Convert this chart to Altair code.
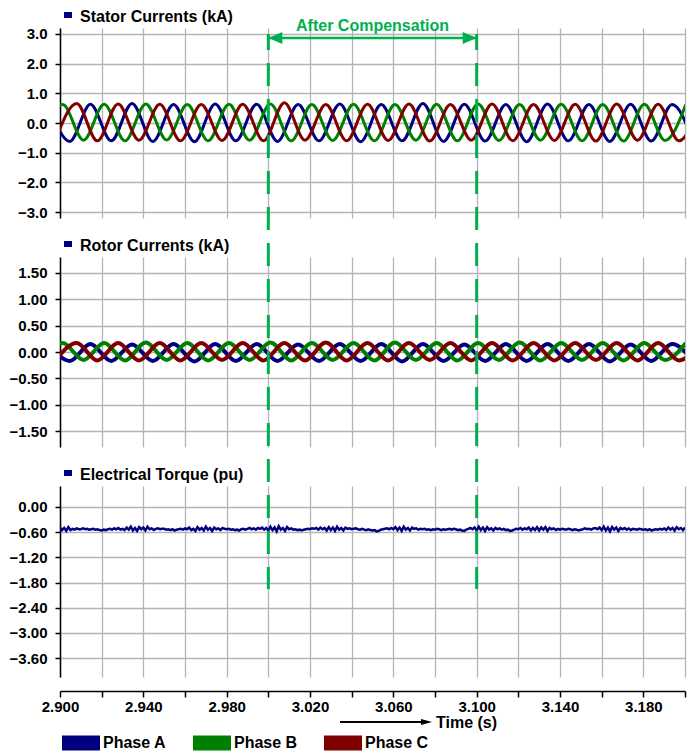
import altair as alt
import pandas as pd
import numpy as np

FONT = "Liberation Sans"
GREEN = "#00b050"
NAVY = "#000080"

phases = ["Phase A", "Phase B", "Phase C"]
phase_colors = ["#000080", "#008000", "#800000"]
panel_titles = ["Stator Currents (kA)", "Rotor Currents (kA)", "Electrical Torque (pu)"]
comp_times = [3.000, 3.100]
comp_label = "After Compensation"
x_label = "Time (s)"
x_ticks = [2.90, 2.92, 2.94, 2.96, 2.98, 3.00, 3.02, 3.04, 3.06, 3.08,
           3.10, 3.12, 3.14, 3.16, 3.18, 3.20]
stator_ticks = [-3.0, -2.0, -1.0, 0.0, 1.0, 2.0, 3.0]
rotor_ticks = [-1.5, -1.0, -0.5, 0.0, 0.5, 1.0, 1.5]
torque_ticks = [0.0, -0.6, -1.2, -1.8, -2.4, -3.0, -3.6]

# times of the successive peaks / troughs of each phase (s)
tA = [2.8947, 2.9047, 2.9146, 2.9246, 2.9346, 2.9446, 2.9545, 2.9645, 2.9745, 2.9844,
      2.9944, 3.0044, 3.0143, 3.0243, 3.0343, 3.0443, 3.0542, 3.0642, 3.0742, 3.0841,
      3.0941, 3.1041, 3.1140, 3.1240, 3.1340, 3.1440, 3.1539, 3.1639, 3.1739, 3.1838,
      3.1938, 3.2038]
tB = [2.8913, 2.9013, 2.9113, 2.9212, 2.9312, 2.9412, 2.9512, 2.9611, 2.9711, 2.9811,
      2.9910, 3.0010, 3.0110, 3.0209, 3.0309, 3.0409, 3.0509, 3.0608, 3.0708, 3.0808,
      3.0907, 3.1007, 3.1107, 3.1206, 3.1306, 3.1406, 3.1506, 3.1605, 3.1705, 3.1805,
      3.1904, 3.2004]
tC = [2.8980, 2.9080, 2.9179, 2.9279, 2.9379, 2.9479, 2.9578, 2.9678, 2.9778, 2.9877,
      2.9977, 3.0077, 3.0176, 3.0276, 3.0376, 3.0476, 3.0575, 3.0675, 3.0775, 3.0874,
      3.0974, 3.1074, 3.1173, 3.1273, 3.1373, 3.1473, 3.1572, 3.1672, 3.1772, 3.1871,
      3.1971, 3.2071]

# stator current extremes (kA)
stator_A = [0.60, -0.62, 0.63, -0.60, 0.66, -0.62, 0.62, -0.63, 0.64, -0.60, 0.63, -0.62,
            0.62, -0.60, 0.64, -0.63, 0.62, -0.60, 0.66, -0.62, 0.63, -0.61, 0.62, -0.63,
            0.64, -0.60, 0.62, -0.62, 0.63, -0.61, 0.62, -0.60]
stator_B = [-0.58, 0.62, -0.58, 0.63, -0.60, 0.64, -0.57, 0.62, -0.60, 0.63, -0.58, 0.64,
            -0.60, 0.62, -0.59, 0.63, -0.60, 0.62, -0.58, 0.63, -0.60, 0.64, -0.59, 0.62,
            -0.58, 0.63, -0.60, 0.62, -0.61, 0.63, -0.59, 0.62]
stator_C = [-0.55, 0.66, -0.60, 0.64, -0.58, 0.63, -0.60, 0.62, -0.59, 0.63, -0.60, 0.68,
            -0.58, 0.62, -0.60, 0.63, -0.59, 0.64, -0.61, 0.62, -0.58, 0.64, -0.60, 0.62,
            -0.59, 0.63, -0.61, 0.64, -0.58, 0.63, -0.60, 0.62]

# rotor current extremes (kA)
rotor_A = [0.15, -0.17, 0.15, -0.17, 0.14, -0.17, 0.15, -0.18, 0.15, -0.17, 0.15, -0.17,
           0.14, -0.17, 0.15, -0.17, 0.15, -0.18, 0.15, -0.17, 0.14, -0.17, 0.15, -0.17,
           0.15, -0.17, 0.15, -0.18, 0.14, -0.17, 0.15, -0.17]
rotor_B = [-0.16, 0.17, -0.15, 0.17, -0.16, 0.18, -0.15, 0.17, -0.16, 0.17, -0.15, 0.18,
           -0.16, 0.17, -0.15, 0.17, -0.16, 0.18, -0.15, 0.17, -0.16, 0.17, -0.15, 0.18,
           -0.16, 0.17, -0.15, 0.17, -0.16, 0.17, -0.15, 0.17]
rotor_C = [-0.15, 0.17, -0.16, 0.17, -0.16, 0.17, -0.16, 0.17, -0.15, 0.17, -0.16, 0.17,
           -0.16, 0.18, -0.16, 0.17, -0.16, 0.17, -0.15, 0.17, -0.16, 0.17, -0.16, 0.17,
           -0.16, 0.17, -0.15, 0.17, -0.16, 0.17, -0.16, 0.17]

# electrical torque (pu), one sample per ms from 2.900 s
torque = [
    -0.49, -0.55, -0.50, -0.57, -0.48, -0.55, -0.52, -0.54, -0.51, -0.53,
    -0.53, -0.51, -0.53, -0.52, -0.54, -0.53, -0.52, -0.54, -0.53, -0.55,
    -0.56, -0.54, -0.55, -0.53, -0.52, -0.54, -0.51, -0.53, -0.50, -0.54,
    -0.52, -0.55, -0.49, -0.54, -0.47, -0.56, -0.50, -0.57, -0.48, -0.53,
    -0.49, -0.56, -0.47, -0.53, -0.51, -0.55, -0.52, -0.51, -0.53, -0.52,
    -0.52, -0.54, -0.53, -0.55, -0.53, -0.56, -0.54, -0.53, -0.52, -0.54,
    -0.51, -0.53, -0.49, -0.55, -0.52, -0.57, -0.48, -0.54, -0.50, -0.56,
    -0.47, -0.54, -0.50, -0.57, -0.49, -0.53, -0.51, -0.55, -0.50, -0.52,
    -0.53, -0.52, -0.54, -0.53, -0.55, -0.54, -0.56, -0.53, -0.52, -0.54,
    -0.52, -0.50, -0.53, -0.51, -0.54, -0.50, -0.52, -0.49, -0.54, -0.50,
    -0.56, -0.47, -0.55, -0.49, -0.58, -0.46, -0.54, -0.50, -0.57, -0.48,
    -0.53, -0.51, -0.54, -0.53, -0.55, -0.54, -0.56, -0.54, -0.53, -0.52,
    -0.53, -0.51, -0.52, -0.50, -0.54, -0.49, -0.53, -0.50, -0.56, -0.48,
    -0.55, -0.49, -0.57, -0.47, -0.54, -0.50, -0.56, -0.49, -0.52, -0.51,
    -0.53, -0.52, -0.51, -0.53, -0.54, -0.52, -0.54, -0.55, -0.53, -0.55,
    -0.56, -0.55, -0.58, -0.57, -0.54, -0.53, -0.52, -0.51, -0.53, -0.50,
    -0.53, -0.48, -0.55, -0.49, -0.57, -0.47, -0.54, -0.50, -0.56, -0.49,
    -0.52, -0.51, -0.54, -0.52, -0.53, -0.52, -0.54, -0.53, -0.55, -0.53,
    -0.54, -0.52, -0.53, -0.55, -0.53, -0.54, -0.53, -0.52, -0.54, -0.52,
    -0.53, -0.55, -0.54, -0.56, -0.57, -0.54, -0.52, -0.50, -0.53, -0.49,
    -0.56, -0.47, -0.55, -0.49, -0.57, -0.48, -0.54, -0.51, -0.56, -0.50,
    -0.53, -0.51, -0.54, -0.52, -0.55, -0.54, -0.57, -0.56, -0.54, -0.52,
    -0.53, -0.50, -0.54, -0.51, -0.53, -0.49, -0.56, -0.50, -0.55, -0.48,
    -0.56, -0.49, -0.54, -0.48, -0.57, -0.50, -0.53, -0.51, -0.55, -0.52,
    -0.54, -0.52, -0.53, -0.54, -0.52, -0.53, -0.55, -0.53, -0.54, -0.56,
    -0.54, -0.53, -0.51, -0.53, -0.52, -0.54, -0.51, -0.50, -0.53, -0.49,
    -0.55, -0.47, -0.56, -0.49, -0.58, -0.48, -0.54, -0.49, -0.57, -0.50,
    -0.53, -0.50, -0.54, -0.51, -0.55, -0.52, -0.53, -0.54, -0.52, -0.53,
    -0.54, -0.53, -0.55, -0.53, -0.56, -0.54, -0.53, -0.54, -0.52, -0.54,
    -0.51, -0.55, -0.49, -0.54, -0.50, -0.56, -0.48, -0.53, -0.50, -0.55, -0.49,
]


def wave_df(values_by_phase):
    frames = []
    for ph, col, ts, vs in zip(phases, phase_colors, [tA, tB, tC], values_by_phase):
        frames.append(pd.DataFrame({"t": ts, "v": vs, "phase": ph, "col": col}))
    return pd.concat(frames, ignore_index=True)


stator_df = wave_df([stator_A, stator_B, stator_C])
rotor_df = wave_df([rotor_A, rotor_B, rotor_C])
torque_df = pd.DataFrame({"t": np.round(2.900 + 0.001 * np.arange(len(torque)), 3), "v": torque})

W = 625
H_TOP, H_ROT, H_TOR = 190, 190, 191
GAP = 39

x_scale = alt.Scale(domain=[2.9, 3.2], nice=False, zero=False)
x_grid_axis = alt.Axis(values=x_ticks, labels=False, ticks=False, domain=False,
                       grid=True, title=None)
x_bottom_axis = alt.Axis(values=x_ticks, grid=True, title=None, offset=14, tickSize=6,
                         labelPadding=2, labelFlush=False, labelOverlap=False,
                         labelExpr="(round(datum.value*1000)-2900) % 40 == 0 ? format(datum.value, '.3f') : ''")
color_scale = alt.Scale(domain=phases, range=phase_colors)

SQUARE = "M-1,-0.75H1V0.75H-1Z"
LEFT_HEAD = "M0,0L2,-0.85L2,0.85Z"
RIGHT_HEAD = "M0,0L-2,-0.85L-2,0.85Z"
SMALL_HEAD = "M0,0L-2,-0.55L-2,0.55Z"
SWATCH = "M-1,-0.4H1V0.4H-1Z"

one = pd.DataFrame({"k": [0]})


def title_layers(title):
    sq = alt.Chart(one).mark_point(shape=SQUARE, filled=True, size=64, color=NAVY,
                                   opacity=1).encode(x=alt.value(8), y=alt.value(-13))
    tx = alt.Chart(one).mark_text(text=title, align="left", baseline="alphabetic",
                                  font=FONT, fontSize=16, fontWeight="bold",
                                  color="black").encode(x=alt.value(20), y=alt.value(-6))
    return [sq, tx]


def comp_rules(xaxis, y0, y1, offset):
    return alt.Chart(pd.DataFrame({"t": comp_times})).mark_rule(
        color=GREEN, strokeWidth=3, strokeDash=[23, 13], strokeDashOffset=offset
    ).encode(x=alt.X("t:Q", scale=x_scale, axis=xaxis), y=alt.value(y0), y2=alt.value(y1))


def wave_layer(df, dom, ticks, fmt, width):
    return alt.Chart(df).mark_line(strokeWidth=width, interpolate="monotone", clip=True).encode(
        x=alt.X("t:Q", scale=x_scale, axis=x_grid_axis),
        y=alt.Y("v:Q", scale=alt.Scale(domain=dom, nice=False, zero=False),
                axis=alt.Axis(values=ticks, format=fmt, title=None, tickSize=5,
                              labelPadding=8, grid=True, labelOverlap=False)),
        stroke=alt.Stroke("col:N", scale=None),
        detail="phase:N",
    )


# ---- top panel: stator currents
stator_lines = wave_layer(stator_df, [-3.2, 3.2], stator_ticks, ".1f", 3)
arrow_line = alt.Chart(pd.DataFrame({"t0": [comp_times[0]], "t1": [comp_times[1]]})).mark_rule(
    color=GREEN, strokeWidth=2.5).encode(
    x=alt.X("t0:Q", scale=x_scale, axis=x_grid_axis), x2="t1:Q", y=alt.value(10))
head_l = alt.Chart(pd.DataFrame({"t": [comp_times[0]]})).mark_point(
    shape=LEFT_HEAD, filled=True, size=196, color=GREEN, opacity=1, dx=4).encode(
    x=alt.X("t:Q", scale=x_scale, axis=x_grid_axis), y=alt.value(10))
head_r = alt.Chart(pd.DataFrame({"t": [comp_times[1]]})).mark_point(
    shape=RIGHT_HEAD, filled=True, size=196, color=GREEN, opacity=1, dx=2).encode(
    x=alt.X("t:Q", scale=x_scale, axis=x_grid_axis), y=alt.value(10))
comp_text = alt.Chart(pd.DataFrame({"t": [(comp_times[0] + comp_times[1]) / 2]})).mark_text(
    text=comp_label, font=FONT, fontSize=16, fontWeight="bold", color=GREEN,
    baseline="middle", align="center").encode(
    x=alt.X("t:Q", scale=x_scale, axis=x_grid_axis), y=alt.value(-2))

top = alt.layer(
    stator_lines,
    comp_rules(x_grid_axis, 6, H_TOP + GAP, 7),
    arrow_line, head_l, head_r, comp_text,
    *title_layers(panel_titles[0]),
).properties(width=W, height=H_TOP)

# ---- middle panel: rotor currents
rotor_lines = wave_layer(rotor_df, [-1.8, 1.8], rotor_ticks, ".2f", 4)
rotor = alt.layer(
    rotor_lines,
    comp_rules(x_grid_axis, 0, H_ROT + GAP, 14),
    *title_layers(panel_titles[1]),
).properties(width=W, height=H_ROT)

# ---- bottom panel: electrical torque
torque_line = alt.Chart(torque_df).mark_line(strokeWidth=2.5, color=NAVY, clip=True).encode(
    x=alt.X("t:Q", scale=x_scale, axis=x_bottom_axis),
    y=alt.Y("v:Q", scale=alt.Scale(domain=[-4.05, 0.5], nice=False, zero=False),
            axis=alt.Axis(values=torque_ticks, format=".2f", title=None, tickSize=5,
                          labelPadding=8, grid=True, labelOverlap=False)),
)
time_arrow = alt.Chart(one).mark_rule(color="black", strokeWidth=2).encode(
    x=alt.value(280), x2=alt.value(366), y=alt.value(236))
time_head = alt.Chart(one).mark_point(shape=SMALL_HEAD, filled=True, size=121,
                                      color="black", opacity=1).encode(
    x=alt.value(372), y=alt.value(236))
time_text = alt.Chart(one).mark_text(text=x_label, align="left", baseline="alphabetic",
                                     font=FONT, fontSize=16, fontWeight="bold",
                                     color="black").encode(x=alt.value(376), y=alt.value(242))
# invisible marks that carry the phase legend
legend_pts = alt.Chart(pd.DataFrame({"phase": phases})).mark_point(
    filled=True, opacity=0).encode(
    x=alt.value(300), y=alt.value(100),
    fill=alt.Fill("phase:N", scale=color_scale, legend=alt.Legend(
        title=None, orient="none", legendX=2, legendY=696, direction="horizontal",
        columns=3, gridAlign="all", columnPadding=26, symbolType=SWATCH,
        symbolSize=1444, symbolOpacity=1, symbolStrokeWidth=0, labelFont=FONT,
        labelFontSize=16, labelFontWeight="bold", labelColor="black", labelOffset=3,
        padding=0)),
)
torq = alt.layer(
    torque_line,
    comp_rules(x_bottom_axis, 0, 103, 27),
    time_arrow, time_head, time_text, legend_pts,
    *title_layers(panel_titles[2]),
).properties(width=W, height=H_TOR)

chart = alt.vconcat(top, rotor, torq, spacing=GAP, bounds="flush").properties(
    padding={"left": 0, "top": 0, "right": 0, "bottom": 0}
).configure(font=FONT).configure_view(stroke="transparent").configure_axis(
    labelFont=FONT, labelFontSize=15, labelFontWeight="bold", labelColor="black",
    domainColor="black", domainWidth=1.5, tickColor="black", tickWidth=1.5,
    gridColor="#b4b4b4", gridWidth=1.3,
)

chart.save("out.html", embed_options={"renderer": "svg", "actions": False})
